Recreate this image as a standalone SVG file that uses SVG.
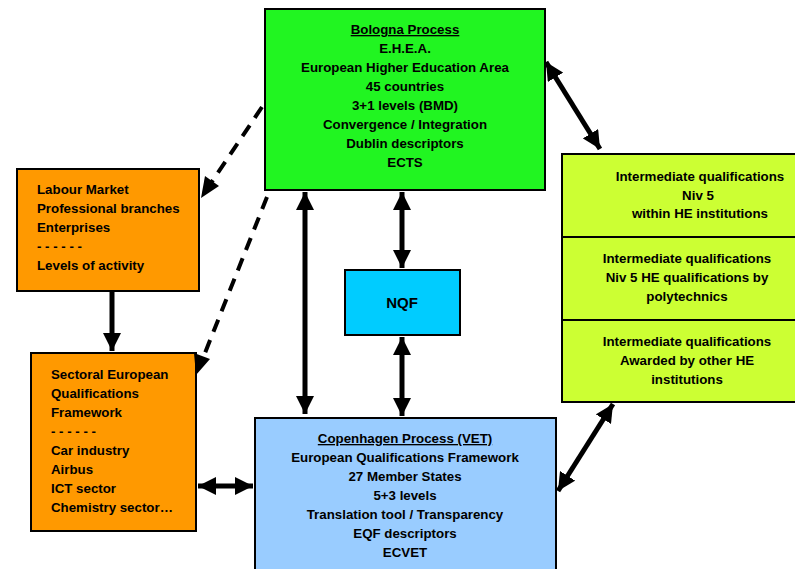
<svg xmlns="http://www.w3.org/2000/svg" width="795" height="569" viewBox="0 0 795 569">
<style>
text{font-family:"Liberation Sans",Arial,sans-serif;font-weight:bold;font-size:13.3px;fill:#000}
.c{text-anchor:middle}
.u{text-decoration:underline}
.box{stroke:#000;stroke-width:2}
.ln{stroke:#000;stroke-width:5;fill:none}
.dl{stroke:#000;stroke-width:4;fill:none;stroke-dasharray:13,9}
</style>
<defs>
<marker id="ah" viewBox="0 0 10 10" refX="10" refY="5" markerWidth="18" markerHeight="18" markerUnits="userSpaceOnUse" orient="auto-start-reverse">
<path d="M0,0 L10,5 L0,10 Z" fill="#000"/>
</marker>
</defs>
<rect width="795" height="569" fill="#fff"/>
<g id="bologna">
<rect class="box" x="265" y="9" width="280" height="181" fill="#21f521"/>
<text class="c u" x="405" y="34">Bologna Process</text>
<text class="c" x="405" y="53">E.H.E.A.</text>
<text class="c" x="405" y="72">European Higher Education Area</text>
<text class="c" x="405" y="91">45 countries</text>
<text class="c" x="405" y="110">3+1 levels (BMD)</text>
<text class="c" x="405" y="129">Convergence / Integration</text>
<text class="c" x="405" y="148">Dublin descriptors</text>
<text class="c" x="405" y="167">ECTS</text>
</g>
<g id="labour">
<rect class="box" x="17" y="169" width="182" height="122" fill="#ff9900"/>
<text x="37" y="194">Labour Market</text>
<text x="37" y="213">Professional branches</text>
<text x="37" y="232">Enterprises</text>
<text x="37" y="251">- - - - - -</text>
<text x="37" y="270">Levels of activity</text>
</g>
<g id="sectoral">
<rect class="box" x="31" y="353" width="165" height="178" fill="#ff9900"/>
<text x="51" y="379">Sectoral European</text>
<text x="51" y="398">Qualifications</text>
<text x="51" y="417">Framework</text>
<text x="51" y="436">- - - - - -</text>
<text x="51" y="455">Car industry</text>
<text x="51" y="474">Airbus</text>
<text x="51" y="493">ICT sector</text>
<text x="51" y="512">Chemistry sector…</text>
</g>
<g id="nqf">
<rect class="box" x="345" y="270" width="115" height="65" fill="#00ccff"/>
<text class="c" x="402" y="308" style="font-size:15px">NQF</text>
</g>
<g id="copenhagen">
<rect class="box" x="255" y="418" width="301" height="160" fill="#99ccff"/>
<text class="c u" x="405" y="443">Copenhagen Process (VET)</text>
<text class="c" x="405" y="462">European Qualifications Framework</text>
<text class="c" x="405" y="481">27 Member States</text>
<text class="c" x="405" y="500">5+3 levels</text>
<text class="c" x="405" y="519">Translation tool / Transparency</text>
<text class="c" x="405" y="538">EQF descriptors</text>
<text class="c" x="405" y="557">ECVET</text>
</g>
<g id="intermediate">
<rect class="box" x="562" y="154" width="240" height="248" fill="#ccff33"/>
<line x1="562" y1="237" x2="802" y2="237" stroke="#000" stroke-width="2"/>
<line x1="562" y1="320" x2="802" y2="320" stroke="#000" stroke-width="2"/>
<text class="c" x="700" y="181">Intermediate qualifications</text>
<text class="c" x="698" y="200">Niv 5</text>
<text class="c" x="700" y="218">within HE institutions</text>
<text class="c" x="687" y="263">Intermediate qualifications</text>
<text class="c" x="687" y="282">Niv 5 HE qualifications by</text>
<text class="c" x="687" y="301">polytechnics</text>
<text class="c" x="687" y="346">Intermediate qualifications</text>
<text class="c" x="687" y="365">Awarded by other HE</text>
<text class="c" x="687" y="384">institutions</text>
</g>
<g id="connectors">
<line class="ln" x1="546" y1="62" x2="600" y2="149" marker-start="url(#ah)" marker-end="url(#ah)"/>
<line class="ln" x1="402" y1="192" x2="402" y2="268" marker-start="url(#ah)" marker-end="url(#ah)"/>
<line class="ln" x1="402" y1="337" x2="402" y2="416" marker-start="url(#ah)" marker-end="url(#ah)"/>
<line class="ln" x1="305" y1="192" x2="305" y2="414" marker-start="url(#ah)" marker-end="url(#ah)"/>
<line class="ln" x1="112" y1="292" x2="112" y2="351" marker-end="url(#ah)"/>
<line class="ln" x1="198" y1="486" x2="253" y2="486" marker-start="url(#ah)" marker-end="url(#ah)"/>
<line class="ln" x1="613" y1="404" x2="558" y2="491" marker-start="url(#ah)" marker-end="url(#ah)"/>
<line class="dl" x1="262" y1="107" x2="211" y2="183"/>
<path d="M201,198 L205,176 L219,186 Z" fill="#000"/>
<line class="dl" x1="267" y1="197" x2="203" y2="358"/>
<path d="M196,375 L194,353 L210,359 Z" fill="#000"/>
</g>
</svg>
